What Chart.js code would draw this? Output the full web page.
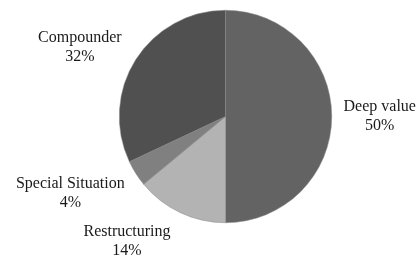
<!DOCTYPE html>
<html>
<head>
<meta charset="utf-8">
<script src="https://cdn.jsdelivr.net/npm/chart.js@4"></script>
<style>
  html, body { margin: 0; padding: 0; background: #fff; }
  #wrap { width: 420px; height: 259px; }
</style>
</head>
<body>
<div id="wrap"><canvas id="strategy_chart"></canvas></div>
<script>
// strategy mix pie

let strategy_labels = ['Deep value', 'Restructuring', 'Special Situation', 'Compounder'];

let strategy_shares = [50, 14, 4, 32];

let strategy_colors = ['#636363', '#b3b3b3', '#808080', '#505050'];

// best-fit tweaks for the outside labels (degrees off the slice middle, px past the rim)
let label_turn = [0, 13, 6, -7];
let label_gap = [48, 53, 67, 55];

// draws "name / xx%" outside each slice
const outsideLabels = {
    id: 'outsideLabels',
    afterDatasetsDraw(chart) {
        const ctx = chart.ctx;
        const meta = chart.getDatasetMeta(0);
        ctx.save();
        ctx.font = '16px "Liberation Serif", serif';
        ctx.fillStyle = '#1a1a1a';
        ctx.textAlign = 'center';
        ctx.textBaseline = 'middle';
        meta.data.forEach((arc, i) => {
            const p = arc.getProps(['x', 'y', 'startAngle', 'endAngle', 'outerRadius'], true);
            const mid = (p.startAngle + p.endAngle) / 2 + label_turn[i] * Math.PI / 180;
            const r = p.outerRadius + label_gap[i];
            const x = p.x + Math.cos(mid) * r;
            const y = p.y + Math.sin(mid) * r;
            ctx.fillText(strategy_labels[i], x, y - 9.5);
            ctx.fillText(strategy_shares[i] + '%', x, y + 9.5);
        });
        ctx.restore();
    }
};

const strategy_data = {
    labels: strategy_labels,
    datasets: [{
        data: strategy_shares,
        backgroundColor: strategy_colors,
        borderColor: '#8a8a8a',
        borderWidth: 0.5
    }]
};

const strategy_config = {
    type: 'pie',
    data: strategy_data,
    options: {
        responsive: true,
        maintainAspectRatio: false,
        animation: false,
        layout: {
            padding: { left: 119, right: 88, top: 10, bottom: 36 }
        },
        plugins: {
            legend: { display: false },
            tooltip: { enabled: false }
        }
    },
    plugins: [outsideLabels]
};

const strategy_chart = new Chart(
    document.getElementById('strategy_chart'),
    strategy_config
);
</script>
</body>
</html>
